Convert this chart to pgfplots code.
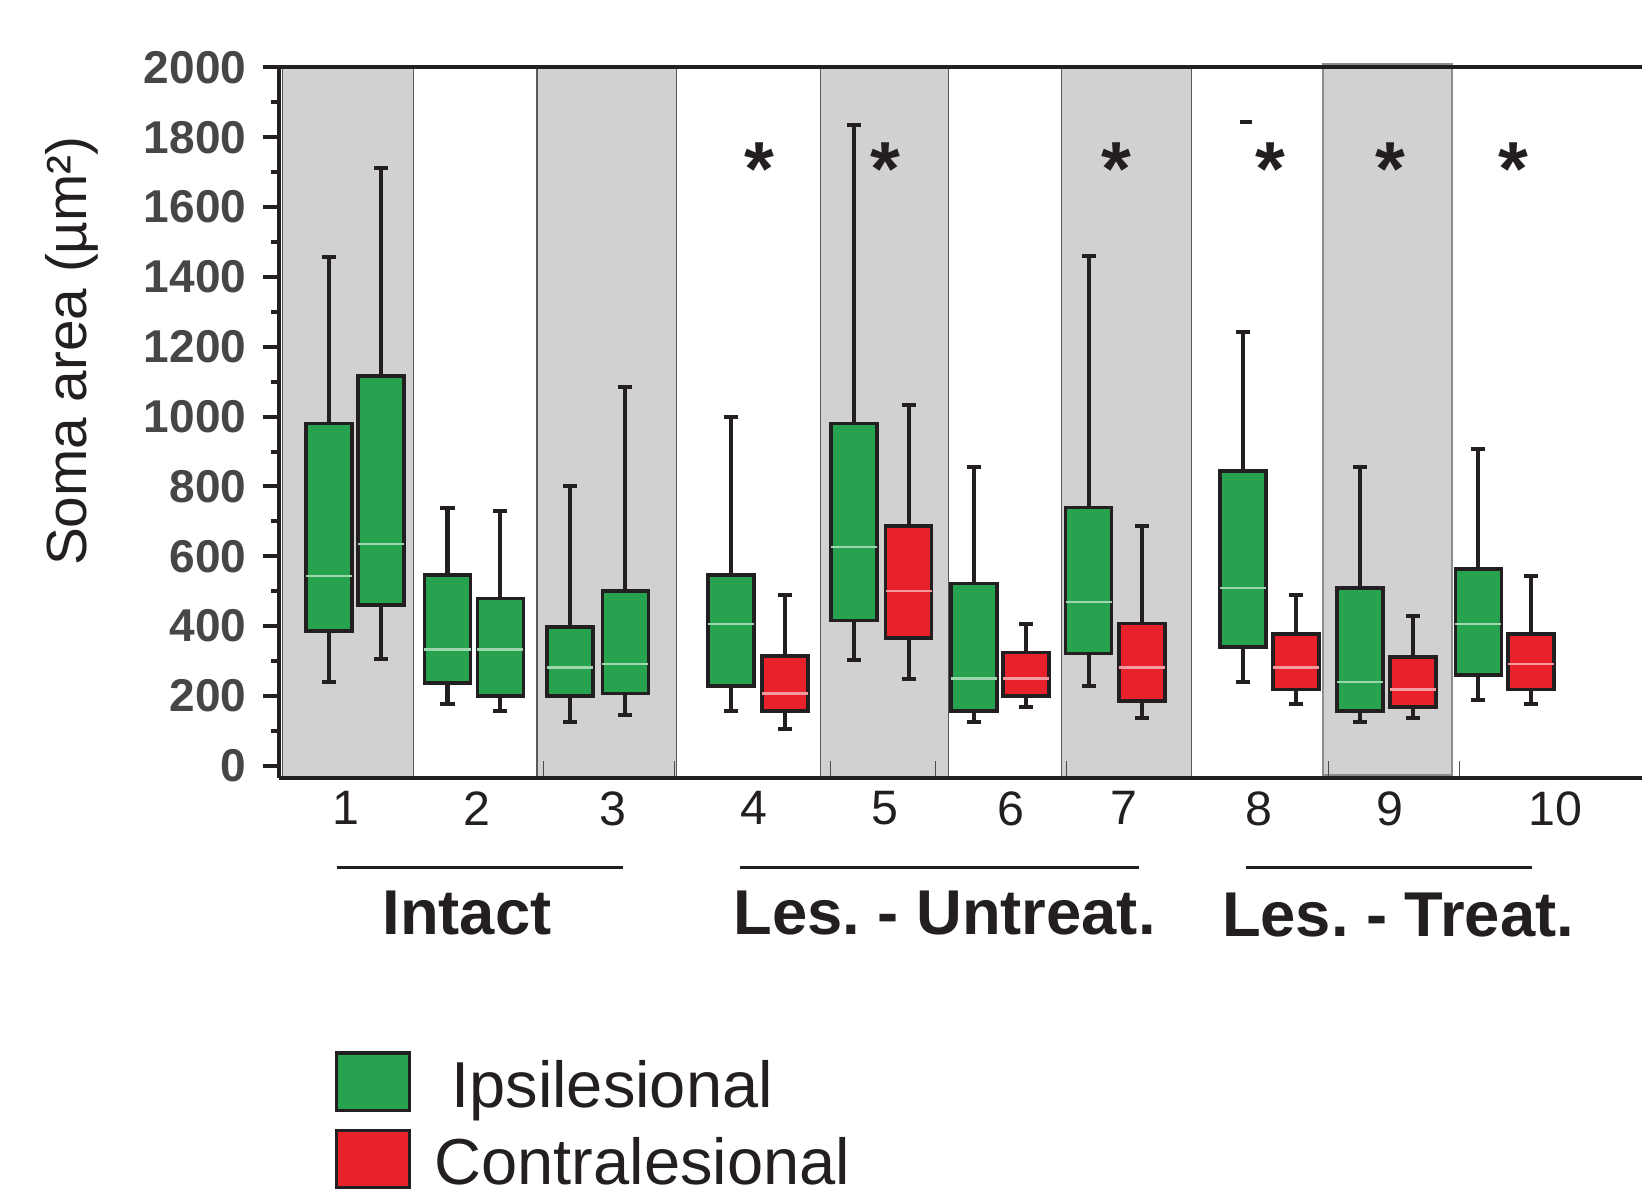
\documentclass[border=0pt]{standalone}
\usepackage{fontspec}
\setmainfont{Liberation Sans}
\usepackage{pgfplots}
\pgfplotsset{compat=1.18}
\usepgfplotslibrary{statistics}

\definecolor{ipsi}{RGB}{39,163,79}
\definecolor{contra}{RGB}{232,33,43}
\definecolor{band}{RGB}{209,209,209}
\definecolor{ink}{RGB}{35,31,32}
\definecolor{tickgray}{RGB}{70,70,70}

% one box: position, lower whisker, lower quartile, median, upper quartile, upper whisker, colour
\newcommand{\bx}[7]{%
  \addplot[forget plot, draw=ink, line width=1.1pt, fill=#7,
    boxplot/draw direction=y,
    boxplot prepared={draw position=#1, lower whisker=#2, lower quartile=#3,
      median=#4, upper quartile=#5, upper whisker=#6,
      box extend=46, whisker extend=14},
    boxplot/every median/.style={draw=#7!45!white, line width=0.7pt},
    boxplot/every whisker/.style={draw=ink, line width=1.2pt}]
  coordinates {};
}

\begin{document}
\frenchspacing
\begin{tikzpicture}
\useasboundingbox (0,0) rectangle (492.6pt,356.4pt);
\begin{axis}[
  at={(83.7pt,123.09pt)}, anchor=south west,
  scale only axis, width=408.9pt, height=213.3pt,
  xmin=279, xmax=1642, ymin=-34, ymax=2002,
  clip=false, axis on top,
  axis x line=box, axis y line=left,
  axis line style={-, line width=1.2pt, draw=ink},
  xtick={345.6,476.5,612.6,754,884.9,1010.6,1123.6,1258.8,1389.6,1555},
  xticklabels={1,2,3,4,5,6,7,8,9,10},
  xtick style={draw=none},
  xtick align=inside,
  xticklabel style={font=\fontsize{14.5}{16}\selectfont, inner sep=0pt, yshift=-3.9pt, text=ink},
  ytick={0,200,...,2000},
  minor y tick num=1,
  ytick align=outside,
  major tick length=4.8pt, minor tick length=2.4pt,
  ytick style={draw=ink, line width=1.2pt},
  yticklabel style={font=\bfseries\fontsize{13.8}{16}\selectfont, text=tickgray, xshift=-1.5pt},
  scaled y ticks=false,
  ylabel={Soma area (µm²)},
  ylabel style={at={(rel axis cs:-0.152,0.6)}, anchor=center, font=\fontsize{17}{20}\selectfont, text=ink},
  legend cell align=left,
  legend style={at={(rel axis cs:0.034,-0.382)}, anchor=north west, draw=none, fill=none,
    font=\fontsize{19.5}{22}\selectfont, text=ink, nodes={inner sep=1pt}, row sep=5.6pt,
    /tikz/every odd column/.append style={column sep=6.3pt}},
  legend image code/.code={%
    \path (0pt,0pt) -- (21.9pt,0pt);
    \draw[#1, draw=ink, line width=1pt, overlay] (0pt,-7.3pt) rectangle (21.9pt,9.9pt);},
  /pgf/number format/1000 sep={},
  /pgf/number format/assume math mode=true,
]
% shaded bands
\foreach \a/\b in {282.7/413.3, 537/676.5, 820.5/948.8, 1061.4/1191.6}{
  \edef\tmp{\noexpand\draw[fill=band, draw=black!65, line width=0.4pt] (axis cs:\a,-34) rectangle (axis cs:\b,2002);}\tmp
}
\draw[fill=band, draw=black!45, line width=0.6pt] (axis cs:1322.6,-27) rectangle (axis cs:1452.4,2010);
% small marks at the base
\foreach \x in {543,674,830,935,1066,1328,1459}{
  \edef\tmp{\noexpand\draw[black!70, line width=0.3pt] (axis cs:\x,-34) -- (axis cs:\x,14);}\tmp
}

\addlegendimage{fill=ipsi}
\addlegendentry{\hspace{5pt}Ipsilesional}
\addlegendimage{fill=contra}
\addlegendentry{Contralesional}

% Intact
\bx{328.8}{241}{387}{543}{980}{1458}{ipsi}
\bx{381.3}{305}{460}{635}{1116}{1711}{ipsi}
\bx{447.5}{178}{238}{333}{546}{739}{ipsi}
\bx{500.4}{158}{200}{333}{479}{729}{ipsi}
\bx{570.0}{126}{200}{282}{398}{801}{ipsi}
\bx{625.4}{146}{207}{292}{501}{1086}{ipsi}
% Lesioned, untreated
\bx{730.7}{158}{229}{406}{546}{999}{ipsi}
\bx{785.3}{105}{157}{207}{314}{489}{contra}
\bx{853.9}{304}{416}{627}{980}{1836}{ipsi}
\bx{908.5}{249}{366}{500}{687}{1034}{contra}
\bx{973.7}{126}{157}{250}{522}{855}{ipsi}
\bx{1025.8}{169}{200}{250}{325}{406}{contra}
\bx{1088.6}{229}{322}{470}{740}{1460}{ipsi}
\bx{1141.9}{137}{186}{282}{408}{686}{contra}
% Lesioned, treated
\bx{1243.0}{241}{341}{510}{845}{1243}{ipsi}
\bx{1295.8}{178}{219}{282}{377}{489}{contra}
\bx{1360.0}{126}{157}{241}{510}{855}{ipsi}
\bx{1412.9}{137}{169}{219}{312}{429}{contra}
\bx{1478.4}{188}{260}{406}{563}{907}{ipsi}
\bx{1530.8}{178}{219}{292}{377}{544}{contra}

% significance marks
\foreach \x in {759,885,1116,1270,1390,1513}{
  \edef\tmp{\noexpand\node[font=\noexpand\bfseries\noexpand\fontsize{23}{25}\noexpand\selectfont, text=ink, inner sep=0pt] at (axis cs:\x,1708) {*};}\tmp
}
\draw[ink, line width=1.2pt] (axis cs:1240,1845) -- (axis cs:1252,1845);

% group brackets and names
\draw[ink, line width=0.9pt] (axis cs:337,-290) -- (axis cs:623,-290);
\draw[ink, line width=0.9pt] (axis cs:740,-290) -- (axis cs:1139,-290);
\draw[ink, line width=0.9pt] (axis cs:1246,-290) -- (axis cs:1532,-290);
\node[font=\bfseries\fontsize{19}{21}\selectfont, text=ink, inner sep=0pt] at (axis cs:467,-422) {Intact};
\node[font=\bfseries\fontsize{19}{21}\selectfont, text=ink, inner sep=0pt] at (axis cs:944.6,-422) {Les. - Untreat.};
\node[font=\bfseries\fontsize{19}{21}\selectfont, text=ink, inner sep=0pt] at (axis cs:1398,-428) {Les. - Treat.};
\end{axis}
\end{tikzpicture}
\end{document}
